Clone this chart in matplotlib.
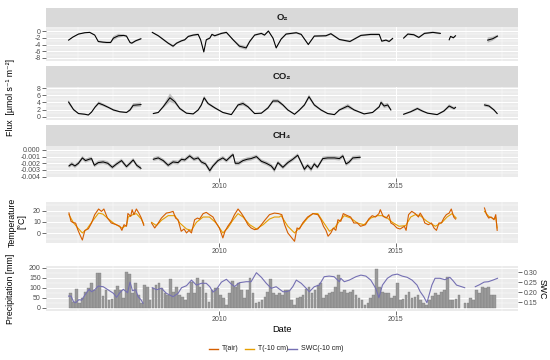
import numpy as np
import matplotlib
matplotlib.use("Agg")
import matplotlib.pyplot as plt
from matplotlib.lines import Line2D

plt.rcParams['axes.unicode_minus'] = False
plt.rcParams['font.family'] = ['Liberation Sans', 'DejaVu Sans']

# ---------------- data (decimal years; None = gap) ----------------
o2_date = [2005.73, 2005.85, 2006.01, 2006.19, 2006.33, 2006.47, 2006.57, 2006.70, 2006.81, 2006.92,
           2007.00, 2007.14, 2007.29, 2007.37, 2007.47, 2007.52, 2007.63, 2007.78, None,
           2008.10, 2008.27, 2008.36, 2008.55, 2008.69, 2008.79, 2008.93, 2009.02, 2009.12, 2009.26,
           2009.40, 2009.47, 2009.56, 2009.63, 2009.73, 2009.79, 2009.87, 2010.06, 2010.20, 2010.39,
           2010.57, 2010.76, 2010.86, 2011.00, 2011.19, 2011.28, 2011.39, 2011.52, 2011.61, 2011.75,
           2011.89, 2012.18, 2012.32, 2012.52, 2012.69, 2013.02, 2013.16, 2013.40, 2013.70, 2014.01,
           2014.29, 2014.53, 2014.60, 2014.72, 2014.81, 2014.91, None,
           2015.22, 2015.34, 2015.51, 2015.65, 2015.81, 2016.05, 2016.26, None,
           2016.51, 2016.55, 2016.63, 2016.69, None,
           2017.60, 2017.74, 2017.88]
o2_flux = [-2.7, -1.8, -0.9, -0.5, -0.4, -1.2, -3.1, -3.3, -3.4, -3.4,
           -2.1, -1.4, -1.3, -1.5, -3.4, -3.6, -2.9, -2.3, None,
           -0.4, -1.4, -2.1, -3.6, -4.5, -3.6, -2.9, -2.6, -1.6, -1.2,
           -1.0, -2.6, -6.2, -2.6, -2.1, -1.0, -1.4, -0.7, -0.4, -2.6,
           -4.5, -5.0, -3.1, -1.2, -0.7, -1.2, 0.0, -2.1, -5.0, -2.4,
           -0.9, -0.5, -1.0, -4.0, -1.5, -1.4, -0.8, -2.5, -3.1, -1.3,
           -1.0, -1.0, -3.0, -2.7, -3.1, -2.2, None,
           -2.1, -0.9, -1.1, -1.9, -0.7, -0.4, -0.7, None,
           -2.6, -1.6, -2.0, -1.4, None,
           -2.7, -2.3, -1.5]
o2_se = [0.2, 0.2, 0.2, 0.2, 0.2, 0.2, 0.3, 0.3, 0.3, 0.3,
         0.6, 0.6, 0.3, 0.3, 0.3, 0.3, 0.3, 0.3, None,
         0.2, 0.3, 0.3, 0.3, 0.4, 0.3, 0.3, 0.3, 0.3, 0.3,
         0.3, 0.3, 0.4, 0.3, 0.3, 0.3, 0.3, 0.3, 0.3, 0.3,
         0.5, 0.6, 0.4, 0.3, 0.3, 0.3, 0.3, 0.3, 0.4, 0.3,
         0.3, 0.3, 0.3, 0.3, 0.3, 0.3, 0.3, 0.3, 0.3, 0.3,
         0.3, 0.3, 0.3, 0.3, 0.3, 0.3, None,
         0.3, 0.3, 0.3, 0.3, 0.3, 0.3, 0.3, None,
         0.3, 0.3, 0.3, 0.3, None,
         0.8, 0.6, 0.4]

co2_date = [2005.73, 2005.87, 2006.01, 2006.19, 2006.29, 2006.38, 2006.48, 2006.58, 2006.71, 2006.86,
            2007.00, 2007.18, 2007.37, 2007.47, 2007.56, 2007.78, None,
            2008.13, 2008.27, 2008.41, 2008.60, 2008.74, 2008.88, 2009.07, 2009.26, 2009.40, 2009.49,
            2009.57, 2009.68, 2009.87, 2010.10, 2010.34, 2010.53, 2010.67, 2010.81, 2011.00, 2011.19,
            2011.38, 2011.52, 2011.66, 2011.80, 2011.94, 2012.13, 2012.27, 2012.41, 2012.54, 2012.69,
            2012.88, 2013.07, 2013.26, 2013.40, 2013.64, 2013.82, 2014.10, 2014.34, 2014.53, 2014.58,
            2014.67, 2014.77, 2014.86, None,
            2015.22, 2015.42, 2015.61, 2015.75, 2015.90, 2016.17, 2016.36, 2016.51, 2016.65, 2016.69, None,
            2017.51, 2017.64, 2017.78, 2017.87]
co2_flux = [4.1, 2.0, 0.9, 0.7, 0.5, 1.3, 2.7, 3.8, 3.3, 2.6,
            1.9, 1.4, 1.2, 1.9, 3.2, 3.4, None,
            0.9, 1.2, 2.8, 5.3, 4.2, 2.3, 1.0, 0.8, 1.9, 3.3,
            5.3, 3.7, 2.5, 1.2, 0.6, 3.3, 3.7, 2.8, 0.9, 1.0,
            2.5, 4.4, 4.4, 3.3, 1.9, 0.7, 1.9, 3.3, 5.6, 3.3,
            1.9, 0.9, 0.6, 1.9, 3.0, 1.9, 0.8, 1.2, 2.8, 4.0,
            3.0, 3.3, 1.9, None,
            0.7, 1.4, 2.3, 1.6, 1.0, 0.6, 1.6, 3.0, 2.3, 2.6, None,
            3.3, 3.0, 1.9, 0.9]
co2_se = [0.6, 0.3, 0.2, 0.2, 0.2, 0.2, 0.3, 0.5, 0.4, 0.3,
          0.3, 0.2, 0.2, 0.4, 0.6, 0.6, None,
          0.2, 0.2, 0.4, 1.2, 0.6, 0.4, 0.2, 0.2, 0.3, 0.5,
          0.6, 0.4, 0.3, 0.2, 0.2, 0.4, 0.6, 0.4, 0.2, 0.2,
          0.4, 0.5, 0.5, 0.4, 0.3, 0.2, 0.3, 0.4, 0.6, 0.4,
          0.3, 0.2, 0.2, 0.3, 0.6, 0.3, 0.2, 0.2, 0.4, 0.6,
          0.6, 0.6, 0.3, None,
          0.2, 0.3, 0.4, 0.3, 0.2, 0.2, 0.3, 0.5, 0.4, 0.4, None,
          0.5, 0.4, 0.3, 0.2]

ch4_date = [2005.74, 2005.82, 2005.91, 2006.01, 2006.12, 2006.21, 2006.31, 2006.38, 2006.46, 2006.57,
            2006.71, 2006.84, 2006.97, 2007.09, 2007.23, 2007.37, 2007.47, 2007.56, 2007.66, 2007.78, None,
            2008.13, 2008.27, 2008.41, 2008.55, 2008.69, 2008.83, 2008.93, 2009.02, 2009.16, 2009.28,
            2009.40, 2009.49, 2009.61, 2009.73, 2009.82, 2009.96, 2010.10, 2010.20, 2010.34, 2010.39,
            2010.45, 2010.55, 2010.67, 2010.79, 2010.90, 2011.05, 2011.19, 2011.33, 2011.47, 2011.56,
            2011.66, 2011.80, 2011.94, 2012.08, 2012.22, 2012.32, 2012.41, 2012.50, 2012.60, 2012.69,
            2012.78, 2012.93, 2013.07, 2013.26, 2013.40, 2013.50, 2013.59, 2013.68, 2013.78, 2013.99]
ch4_flux = [-0.0024, -0.0021, -0.0024, -0.0020, -0.0012, -0.0016, -0.0014, -0.0013, -0.0023, -0.0019,
            -0.0018, -0.0020, -0.0026, -0.0021, -0.0016, -0.0025, -0.0020, -0.0015, -0.0023, -0.00275, None,
            -0.0014, -0.0012, -0.0016, -0.0023, -0.0018, -0.0019, -0.0014, -0.0015, -0.0009, -0.0014,
            -0.0012, -0.0018, -0.0021, -0.0031, -0.0024, -0.0016, -0.0012, -0.0016, -0.0009, -0.0007,
            -0.0020, -0.0020, -0.0016, -0.0014, -0.0013, -0.0010, -0.0017, -0.0020, -0.0024, -0.0030,
            -0.0019, -0.0026, -0.0019, -0.0014, -0.0008, -0.0019, -0.0029, -0.0023, -0.0029, -0.0021,
            -0.0026, -0.0013, -0.0012, -0.0012, -0.0013, -0.0009, -0.0021, -0.0018, -0.0012, -0.0011]
ch4_se = [0.0003, 0.0003, 0.0003, 0.0003, 0.0003, 0.0003, 0.0003, 0.0003, 0.0003, 0.0003,
          0.0003, 0.0003, 0.0003, 0.0003, 0.0003, 0.0003, 0.0003, 0.0003, 0.0003, 0.0003, None,
          0.0003, 0.0003, 0.0003, 0.0003, 0.0003, 0.0003, 0.0003, 0.0003, 0.0003, 0.0003,
          0.0003, 0.0003, 0.0003, 0.0004, 0.0003, 0.0003, 0.0003, 0.0003, 0.0003, 0.0003,
          0.0003, 0.0003, 0.0003, 0.0003, 0.0003, 0.0003, 0.0003, 0.0003, 0.0003, 0.0004,
          0.0003, 0.0003, 0.0003, 0.0003, 0.0003, 0.0003, 0.0004, 0.0003, 0.0004, 0.0003,
          0.0003, 0.0003, 0.0003, 0.0003, 0.0003, 0.0003, 0.0003, 0.0003, 0.0003, 0.0003]

tair_date = [2005.74, 2005.80, 2005.86, 2005.93, 2005.99, 2006.05, 2006.12, 2006.19, 2006.29, 2006.38,
             2006.47, 2006.58, 2006.66, 2006.73, 2006.83, 2006.94, 2007.08, 2007.18, 2007.24, 2007.30,
             2007.37, 2007.41, 2007.49, 2007.53, 2007.58, 2007.65, 2007.72, 2007.79, 2007.86, None,
             2008.08, 2008.17, 2008.27, 2008.36, 2008.50, 2008.60, 2008.69, 2008.76, 2008.83, 2008.88,
             2008.92, 2009.00, 2009.07, 2009.14, 2009.21, 2009.30, 2009.38, 2009.44, 2009.54, 2009.63,
             2009.72, 2009.82, 2009.91, 2010.00, 2010.10, 2010.16, 2010.24, 2010.34, 2010.43, 2010.53,
             2010.62, 2010.71, 2010.81, 2010.90, 2011.00, 2011.09, 2011.19, 2011.30, 2011.42, 2011.56,
             2011.68, 2011.77, 2011.85, 2011.94, 2012.03, 2012.13, 2012.20, 2012.27, 2012.36, 2012.50,
             2012.65, 2012.79, 2012.88, 2012.95, 2013.02, 2013.08, 2013.16, 2013.23, 2013.30, 2013.36,
             2013.44, 2013.51, 2013.63, 2013.72, 2013.81, 2013.91, 2014.00, 2014.14, 2014.23, 2014.33,
             2014.42, 2014.52, 2014.56, 2014.64, 2014.73, 2014.80, 2014.86, 2014.94, 2015.03, 2015.12,
             2015.24, 2015.29, 2015.36, 2015.45, 2015.55, 2015.64, 2015.69, 2015.76, 2015.82, 2015.92,
             2016.01, 2016.08, 2016.15, 2016.22, 2016.29, 2016.36, 2016.43, 2016.51, 2016.57, 2016.64,
             2016.69, None,
             2017.51, 2017.57, 2017.63, 2017.70, 2017.78, 2017.83, 2017.87]
tair_c = [18.0, 10.5, 9.5, 9.0, 3.2, -1.2, -6.0, 2.5, 4.0, 9.1,
          16.5, 21.5, 19.4, 21.5, 13.5, 9.1, 7.6, 6.2, 2.6, 7.6,
          6.2, 17.5, 15.0, 20.9, 16.5, 21.5, 17.9, 13.5, 7.0, None,
          9.1, 4.7, 9.1, 13.5, 17.9, 18.5, 19.4, 13.5, 12.0, 6.2,
          1.8, 3.8, 0.3, 2.6, 0.3, 12.0, 13.5, 12.6, 17.4, 18.5,
          16.5, 14.4, 9.1, 4.7, -4.1, 1.8, 6.2, 10.6, 16.5, 21.5,
          17.9, 13.5, 7.6, 4.7, 3.2, 3.8, 7.6, 12.0, 16.5, 17.9,
          17.4, 16.5, 7.6, 0.3, -3.2, -7.1, 4.7, 3.8, 9.1, 14.4,
          17.4, 16.5, 12.0, 6.2, 2.6, -2.6, 0.3, 4.7, 2.6, 12.0,
          10.6, 17.4, 15.6, 14.4, 9.1, 9.1, 6.2, 7.6, 12.6, 15.6,
          14.4, 17.4, 20.9, 15.0, 13.5, 16.5, 9.1, 7.6, 4.7, 3.8,
          6.2, 2.6, 16.5, 19.4, 17.4, 14.4, 17.9, 14.4, 9.1, 7.6,
          9.1, 4.7, 2.6, 9.1, 9.1, 13.5, 16.5, 17.9, 21.5, 14.4,
          12.6, None,
          22.4, 16.5, 13.5, 14.4, 12.0, 16.5, 2.6]

tsoil_date = [2005.74, 2005.86, 2005.99, 2006.12, 2006.25, 2006.38, 2006.58, 2006.70, 2006.83, 2007.00,
              2007.24, 2007.37, 2007.42, 2007.55, 2007.65, 2007.79, 2007.86, None,
              2008.08, 2008.22, 2008.36, 2008.55, 2008.74, 2008.88, 2009.07, 2009.21, 2009.35, 2009.54,
              2009.72, 2009.91, 2010.10, 2010.24, 2010.38, 2010.53, 2010.67, 2010.86, 2011.05, 2011.24,
              2011.42, 2011.56, 2011.70, 2011.75, 2011.94, 2012.13, 2012.27, 2012.50, 2012.65, 2012.79,
              2012.93, 2013.12, 2013.26, 2013.40, 2013.54, 2013.72, 2013.91, 2014.10, 2014.29, 2014.48,
              2014.62, 2014.76, 2014.90, 2015.09, 2015.28, 2015.42, 2015.55, 2015.69, 2015.88, 2016.12,
              2016.31, 2016.45, 2016.59, 2016.71, None,
              2017.51, 2017.63, 2017.78, 2017.83, 2017.87]
tsoil_c = [16.5, 9.7, 4.7, 0.3, 3.8, 9.7, 17.9, 17.0, 13.5, 9.1,
           4.7, 7.0, 14.4, 16.5, 17.4, 12.6, 8.2, None,
           9.7, 6.8, 11.5, 15.6, 15.6, 9.1, 3.8, 2.6, 9.7, 14.4,
           14.4, 9.1, 0.3, 4.7, 11.5, 17.4, 14.4, 7.6, 3.8, 7.6,
           12.6, 14.4, 14.4, 15.6, 6.2, 0.3, 4.7, 13.5, 17.4, 17.4,
           10.6, 1.8, 4.7, 10.6, 15.6, 13.5, 9.1, 7.6, 13.5, 15.6,
           15.6, 13.5, 9.7, 6.2, 6.8, 14.4, 16.5, 15.6, 10.6, 6.2,
           9.7, 14.4, 17.4, 13.5, None,
           19.4, 15.0, 12.6, 14.0, 4.7]

precip_start = 2005.79          # centre of first monthly bar
precip_mm = [72, 30, 92, 22, 47, 80, 100, 122, 88, 175, 175, 58, 88, 38, 42, 88, 110, 88, 50, 178,
             168, 72, 122, 63, 22, 113, 105, 38, 97, 113, 122, 97, 72, 63, 143, 80, 105, 63, 55, 38,
             72, 130, 72, 147, 105, 138, 72, 30, 88, 97, 97, 63, 47, 13, 72, 135, 105, 122, 88, 47,
             88, 147, 75, 22, 30, 38, 55, 80, 142, 72, 63, 72, 63, 88, 88, 38, 13, 47, 55, 63,
             92, 105, 72, 88, 113, 122, 47, 63, 72, 80, 105, 165, 80, 88, 72, 80, 88, 63, 47, 38,
             13, 22, 47, 63, 192, 105, 80, 72, 72, 47, 58, 122, 38, 42, 63, 80, 47, 55, 63, 38,
             22, 13, 38, 58, 75, 63, 80, 88, 155, 38, 38, 42, 63, None, 22, 25, 47, 38, 88, 75,
             105, 97, 105, 63, 63]

swc_date = [2005.73, 2005.80, 2005.87, 2005.93, 2006.02, 2006.10, 2006.19, 2006.31, 2006.38, 2006.46,
            2006.57, 2006.71, 2006.86, 2007.00, 2007.09, 2007.18, 2007.28, 2007.40, 2007.47, 2007.54,
            2007.63, 2007.70, 2007.78, 2007.84, None,
            2008.10, 2008.22, 2008.36, 2008.50, 2008.69, 2008.83, 2008.93, 2009.07, 2009.21, 2009.35,
            2009.49, 2009.63, 2009.73, 2009.82, 2009.91, 2010.06, 2010.20, 2010.34, 2010.43, 2010.57,
            2010.76, 2010.90, 2011.05, 2011.19, 2011.33, 2011.47, 2011.61, 2011.80, 2011.89, 2011.99,
            2012.08, 2012.18, 2012.32, 2012.46, 2012.55, 2012.69, 2012.83, 2012.97, 2013.11, 2013.25,
            2013.40, 2013.44, 2013.54, 2013.68, 2013.87, 2014.01, 2014.15, 2014.29, 2014.43, 2014.52,
            2014.62, 2014.76, 2014.90, 2015.04, 2015.18, 2015.32, 2015.46, 2015.60, 2015.69, 2015.79,
            2015.88, 2016.02, 2016.11, 2016.25, 2016.39, 2016.53, 2016.62, 2016.72, 2016.95, None,
            2017.25, 2017.37, 2017.50, 2017.62, 2017.75, 2017.88]
swc_vol = [0.181, 0.181, 0.153, 0.148, 0.163, 0.161, 0.186, 0.215, 0.203, 0.211,
           0.231, 0.228, 0.211, 0.195, 0.175, 0.198, 0.215, 0.198, 0.251, 0.208,
           0.213, 0.178, 0.163, 0.145, None,
           0.223, 0.213, 0.220, 0.195, 0.178, 0.195, 0.223, 0.233, 0.261, 0.236,
           0.245, 0.245, 0.228, 0.201, 0.213, 0.251, 0.265, 0.241, 0.229, 0.248,
           0.253, 0.253, 0.298, 0.275, 0.245, 0.220, 0.228, 0.203, 0.203, 0.208,
           0.228, 0.261, 0.245, 0.220, 0.203, 0.228, 0.236, 0.278, 0.281, 0.278,
           0.253, 0.270, 0.253, 0.261, 0.278, 0.286, 0.281, 0.261, 0.220, 0.173,
           0.236, 0.270, 0.286, 0.291, 0.281, 0.275, 0.261, 0.236, 0.203, 0.178,
           0.148, 0.236, 0.270, 0.270, 0.263, 0.275, 0.258, 0.236, 0.223, None,
           0.228, 0.238, 0.251, 0.253, 0.261, 0.270]

flux_panels = ["O\u2082", "CO\u2082", "CH\u2084"]
legend_labels = ["T(air)", "T(-10 cm)", "SWC(-10 cm)"]
line_colors = ["#D55E00", "#E69F00", "#7570B3"]

# ---------------- layout helpers ----------------
W, H = 550, 360
fig = plt.figure(figsize=(5.5, 3.6), dpi=100)
XL, XR = 46, 518
DMIN, DMAX = 2005.09, 2018.46
TICK_KW = dict(length=2.6, width=0.5, color='#333333', labelsize=5, labelcolor='#4D4D4D', pad=1.2)
TITLE_FS = 6.3


def arr(v):
    return np.array([np.nan if x is None else x for x in v], dtype=float)


def box(x0, y0, x1, y1):
    return fig.add_axes([x0 / W, 1 - y1 / H, (x1 - x0) / W, (y1 - y0) / H])


def panel(y0, y1, ylim, ymajor, yminor, ylabels, xlabels=False, x1=XR):
    ax = box(XL, y0, x1, y1)
    ax.set_facecolor('#EBEBEB')
    for s in ax.spines.values():
        s.set_visible(False)
    ax.set_xlim(DMIN, DMAX)
    ax.set_ylim(*ylim)
    for yv in yminor:
        ax.axhline(yv, color='white', lw=0.35, zorder=0.5)
    for yv in ymajor:
        ax.axhline(yv, color='white', lw=0.75, zorder=0.5)
    for yr in range(2006, 2019):
        ax.axvline(yr, color='white', lw=0.75 if yr in (2010, 2015) else 0.35, zorder=0.5)
    ax.set_yticks(ymajor)
    ax.set_yticklabels(ylabels)
    if xlabels:
        ax.set_xticks([2010, 2015])
        ax.set_xticklabels(['2010', '2015'])
    else:
        ax.set_xticks([])
    ax.tick_params(axis='both', **TICK_KW)
    return ax


def strip(y0, y1, label):
    s = box(XL, y0, XR, y1)
    s.set_facecolor('#D9D9D9')
    for sp in s.spines.values():
        sp.set_visible(False)
    s.set_xticks([])
    s.set_yticks([])
    s.text(0.5, 0.5, label, ha='center', va='center', fontsize=6.8, fontweight='bold',
           color='#1A1A1A', transform=s.transAxes)


def flux(ax, d, v, se):
    d, v, se = arr(d), arr(v), arr(se)
    ax.fill_between(d, v - se, v + se, color='#7F7F7F', alpha=0.45, lw=0, zorder=2)
    ax.plot(d, v, color='black', lw=0.75, zorder=3, solid_joinstyle='round')


# ---------------- flux facets ----------------
strip(8, 27, flux_panels[0])
ax1 = panel(27, 61, (-8.9, 1.2), [-8, -6, -4, -2, 0], [-7, -5, -3, -1, 1],
            ['-8', '-6', '-4', '-2', '0'])
flux(ax1, o2_date, o2_flux, o2_se)

strip(66, 87, flux_panels[1])
ax2 = panel(87, 120, (-0.9, 8.3), [0, 2, 4, 6, 8], [1, 3, 5, 7], ['0', '2', '4', '6', '8'])
flux(ax2, co2_date, co2_flux, co2_se)

strip(125, 146, flux_panels[2])
ax3 = panel(146, 178, (-0.0042, 0.00058), [-0.004, -0.003, -0.002, -0.001, 0.0],
            [-0.0035, -0.0025, -0.0015, -0.0005],
            ['-0.004', '-0.003', '-0.002', '-0.001', '0.000'], xlabels=True)
flux(ax3, ch4_date, ch4_flux, ch4_se)

# ---------------- temperature ----------------
ax4 = panel(202, 243, (-8.6, 27.7), [0, 10, 20], [-5, 5, 15, 25], ['0', '10', '20'], xlabels=True)
ax4.plot(arr(tsoil_date), arr(tsoil_c), color=line_colors[1], lw=0.8, zorder=3)
ax4.plot(arr(tair_date), arr(tair_c), color=line_colors[0], lw=0.8, zorder=4)

# ---------------- precipitation + SWC ----------------
ax5 = panel(266, 311, (-16.5, 208.5), [0, 50, 100, 150, 200], [25, 75, 125, 175],
            ['0', '50', '100', '150', '200'], xlabels=True, x1=XR)
pm = arr(precip_mm)
pdates = precip_start + np.arange(len(pm)) / 12.0
ok = ~np.isnan(pm)
ax5.bar(pdates[ok], pm[ok], width=0.9 / 12, color='#9A9A9A', edgecolor='#7A7A7A', lw=0.25, zorder=2)
SWC_OFF = 0.123
ax5.plot(arr(swc_date), (arr(swc_vol) - SWC_OFF) * 1000, color=line_colors[2], lw=0.8, zorder=3)
sec = ax5.secondary_yaxis('right', functions=(lambda p: p / 1000 + SWC_OFF, lambda s: (s - SWC_OFF) * 1000))
sec.set_yticks([0.15, 0.20, 0.25, 0.30])
sec.set_yticklabels(['0.15', '0.20', '0.25', '0.30'])
sec.tick_params(**TICK_KW)
for s in sec.spines.values():
    s.set_visible(False)

# ---------------- axis titles ----------------
fig.text(11 / W, 1 - 97 / H, 'Flux  [\u00b5mol s\u207b\u00b9 m\u207b\u00b2]', rotation=90,
         ha='center', va='center', fontsize=TITLE_FS, color='black')
fig.text(17 / W, 1 - 222 / H, 'Temperature\n[\u00b0C]', rotation=90, ha='center', va='center',
         fontsize=TITLE_FS, multialignment='center', linespacing=1.0)
fig.text(11 / W, 1 - 289 / H, 'Precipitation [mm]', rotation=90, ha='center', va='center',
         fontsize=TITLE_FS)
fig.text(542 / W, 1 - 289 / H, 'SWC', rotation=-90, ha='center', va='center', fontsize=TITLE_FS)
fig.text(282 / W, 1 - 329 / H, 'Date', ha='center', va='center', fontsize=TITLE_FS + 0.4)

# ---------------- legend ----------------
leg_y = 1 - 349 / H
key_x = [209, 245, 288]
for kx, lab, col in zip(key_x, legend_labels, line_colors):
    fig.add_artist(Line2D([kx / W, (kx + 9) / W], [leg_y, leg_y], color=col, lw=1.0,
                          transform=fig.transFigure))
    fig.text((kx + 13) / W, leg_y, lab, ha='left', va='center', fontsize=5, color='#1A1A1A')

fig.savefig('out.png', dpi=100)
